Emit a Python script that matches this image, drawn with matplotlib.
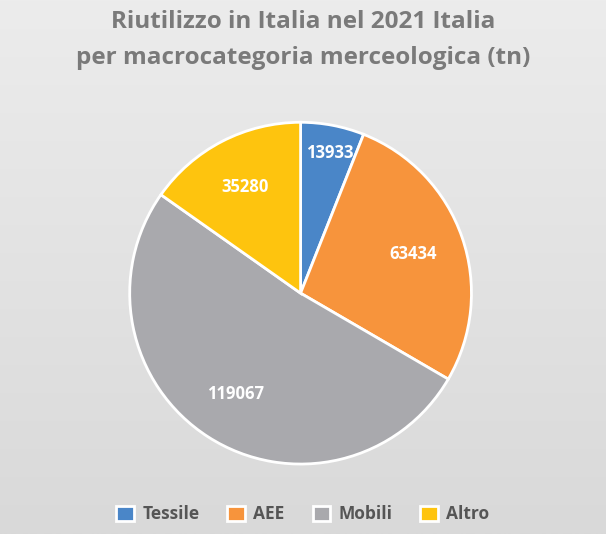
import numpy as np
import matplotlib.pyplot as plt

categorie = ['Tessile', 'AEE', 'Mobili', 'Altro']
valori = [13933, 63434, 119067, 35280]
colori = ['#4a86c8', '#f7943c', '#a9a9ad', '#fec40e']

plt.rcParams['font.family'] = ['Open Sans', 'DejaVu Sans']

fig = plt.figure(figsize=(6.06, 5.34), dpi=100)

# sfondo sfumato
bg = fig.add_axes([0, 0, 1, 1])
grad = np.linspace(0, 1, 256).reshape(-1, 1)
bg.imshow(grad, cmap=plt.matplotlib.colors.LinearSegmentedColormap.from_list(
    'bg', ['#ececec', '#d9d9d9']), aspect='auto', extent=[0, 1, 0, 1])
bg.axis('off')

ax = fig.add_axes([0.142, 0.051, 0.708, 0.80])
wedges, _, testi = ax.pie(valori, colors=colori, startangle=90, counterclock=False,
                          autopct=lambda p: '%d' % round(p * sum(valori) / 100),
                          pctdistance=0.7,
                          wedgeprops=dict(edgecolor='white', linewidth=2))
for t in testi:
    t.set_color('white')
    t.set_fontsize(12)
    t.set_fontweight('bold')
testi[0].set_position((0.17, 0.82))
ax.set_aspect('equal')

fig.text(0.5, 0.959, 'Riutilizzo in Italia nel 2021 Italia', ha='center', va='center',
         fontsize=17.5, fontweight='bold', color='#7a7a7a')
fig.text(0.5, 0.891, 'per macrocategoria merceologica (tn)', ha='center', va='center',
         fontsize=17.5, fontweight='bold', color='#7a7a7a')

fig.legend(wedges, categorie, loc='center', bbox_to_anchor=(0.5, 0.037), ncol=4,
           frameon=False, handlelength=1.0, handleheight=1.0, columnspacing=1.6,
           handletextpad=0.5, prop={'size': 12.5, 'weight': 'bold'}, labelcolor='#555555')

fig.savefig('out.png', dpi=100)
